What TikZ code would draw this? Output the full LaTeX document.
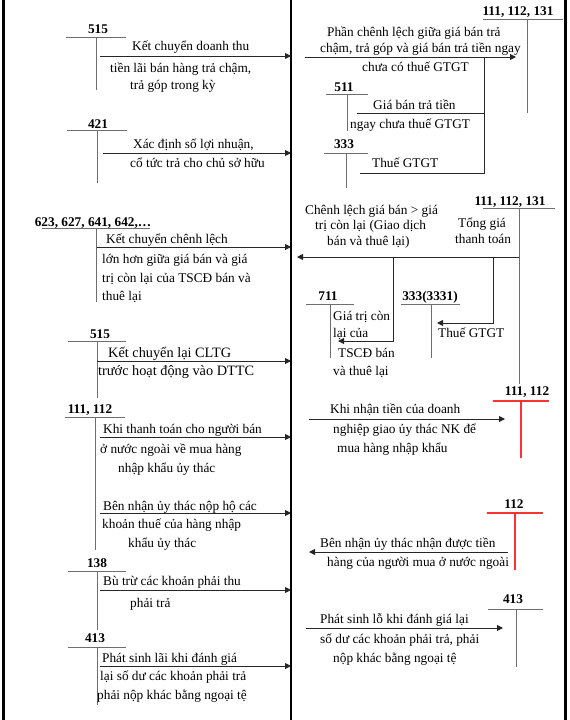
\documentclass[tikz,border=0pt]{standalone}
\usepackage{fontspec}
\setmainfont{Liberation Serif}
\usetikzlibrary{arrows.meta}
\definecolor{tgray}{RGB}{110,110,110}
\definecolor{tred}{RGB}{250,50,50}
\tikzset{
  tline/.style={draw=tgray, line width=1pt},
  rline/.style={draw=tred, line width=1.2pt},
  conn/.style={black!85, line width=1pt},
  arr/.style={conn, -{Triangle[length=6pt,width=6pt]}},
  border/.style={black, line width=3pt},
  acctlabel/.style={font=\fontsize{13.3}{16}\selectfont\bfseries, anchor=base, inner sep=0pt},
  txt/.style={font=\fontsize{13.3}{16}\selectfont, anchor=base west, inner sep=0pt},
  bigtxt/.style={font=\fontsize{14.3}{18}\selectfont, anchor=base west, inner sep=0pt},
}
\newcommand{\tacct}[9]{%
  \node[acctlabel] (#1) at (#3,#4) {#2};
  \coordinate (#1-l) at (#5,#7);
  \coordinate (#1-r) at (#6,#7);
  \coordinate (#1-t) at (#8,#7);
  \coordinate (#1-b) at (#8,#9);
  \draw[tline] (#1-l) -- (#1-r);
  \draw[tline] (#1-t) -- (#1-b);
}
\newcommand{\tacctred}[9]{%
  \node[acctlabel] (#1) at (#3,#4) {#2};
  \coordinate (#1-l) at (#5,#7);
  \coordinate (#1-r) at (#6,#7);
  \coordinate (#1-t) at (#8,#7);
  \coordinate (#1-b) at (#8,#9);
  \draw[rline] (#1-l) -- (#1-r);
  \draw[rline] (#1-t) -- (#1-b);
}
\begin{document}
\begin{tikzpicture}[x=1pt,y=-1pt]
\useasboundingbox (0,0) rectangle (570,720);
% borders
\coordinate (lt) at (3.5,0); \coordinate (lb) at (3.5,720);
\coordinate (mt) at (291,0); \coordinate (mb) at (291,720);
\coordinate (rt) at (565.5,0); \coordinate (rb) at (565.5,720);
\draw[border] (lt) -- (lb);
\draw[black, line width=2.2pt] (mt) -- (mb);
\draw[border] (rt) -- (rb);

% ---------- left accounts ----------
\tacct{L1}{515}{98}{33}{66}{126}{37}{96}{90}
\tacct{L2}{421}{98}{128}{67}{127}{130}{97}{183}
\tacct{L3}{623, 627, 641, 642,…}{93}{226}{42}{150}{228}{96}{302}
\tacct{L4}{515}{100}{338}{68}{126}{341}{97}{398}
\tacct{L5}{111, 112}{90}{413}{65}{125}{417}{95}{550}
\tacct{L6}{138}{97}{567}{68}{126}{571}{97}{630}
\tacct{L7}{413}{95}{642}{68}{126}{647}{97}{705}

% left arrows
\coordinate (s1) at (100,56);  \coordinate (e1) at (291,56);
\coordinate (s2) at (103,153); \coordinate (e2) at (291,153);
\coordinate (s3) at (97,247);  \coordinate (e3) at (291,247);
\coordinate (s4) at (97,361);  \coordinate (e4) at (291,361);
\coordinate (s5) at (100,437); \coordinate (e5) at (291,437);
\coordinate (s6) at (100,513); \coordinate (e6) at (291,513);
\coordinate (s7) at (100,590); \coordinate (e7) at (291,590);
\coordinate (s8) at (100,666); \coordinate (e8) at (291,666);
\foreach \i in {1,...,8} { \draw[arr] (s\i) -- (e\i); }

% left texts
\node[txt] (t1a) at (132,50) {Kết chuyển doanh thu};
\node[txt] (t1b) at (110,72) {tiền lãi bán hàng trả chậm,};
\node[txt] (t1c) at (130,89) {trả góp trong kỳ};
\node[txt] (t2a) at (133,148) {Xác định số lợi nhuận,};
\node[txt] (t2b) at (130,167) {cổ tức trả cho chủ sở hữu};
\node[txt] (t3a) at (106,243) {Kết chuyển chênh lệch};
\node[txt] (t3b) at (102,263) {lớn hơn giữa giá bán và giá};
\node[txt] (t3c) at (102,282) {trị còn lại của TSCĐ bán và};
\node[txt] (t3d) at (102,300) {thuê lại};
\node[bigtxt] (t4a) at (108,357) {Kết chuyển lại CLTG};
\node[bigtxt] (t4b) at (98,375) {trước hoạt động vào DTTC};
\node[txt] (t5a) at (103,433) {Khi thanh toán cho người bán};
\node[txt] (t5b) at (100,453) {ở nước ngoài về mua hàng};
\node[txt] (t5c) at (118,472) {nhập khẩu ủy thác};
\node[txt] (t6a) at (103,510) {Bên nhận ủy thác nộp hộ các};
\node[txt] (t6b) at (102,528) {khoản thuế của hàng nhập};
\node[txt] (t6c) at (128,547) {khẩu ủy thác};
\node[txt] (t7a) at (103,585) {Bù trừ các khoản phải thu};
\node[txt] (t7b) at (130,607) {phải trả};
\node[txt] (t8a) at (102,662) {Phát sinh lãi khi đánh giá};
\node[txt] (t8b) at (100,680) {lại số dư các khoản phải trả};
\node[txt] (t8c) at (97,699) {phải nộp khác bằng ngoại tệ};

% ---------- right accounts ----------
\tacct{RA}{111, 112, 131}{518}{15}{483}{563}{19}{527}{113}
\tacct{RB}{511}{344}{91}{326}{368}{94}{347}{131}
\tacct{RC}{333}{344}{148}{324}{368}{153}{346}{188}
\tacct{RD}{111, 112, 131}{510}{205}{483}{555}{208}{519}{384}
\tacct{RE}{711}{328}{300}{306}{354}{304}{330}{358}
\tacct{RF}{333(3331)}{430}{300}{401}{460}{304}{431}{358}
\tacctred{RG}{111, 112}{527}{395}{493}{549}{401}{521}{458}
\tacctred{RH}{112}{514}{508}{487}{543}{513}{515}{570}
\tacct{RI}{413}{513}{603}{488}{543}{609}{516}{667}

% right connectors
\coordinate (ra1) at (305,57);  \coordinate (ra2) at (516,57);
\coordinate (rj) at (484,57);
\coordinate (rb1) at (357,113); \coordinate (rb2) at (484,113);
\coordinate (rc1) at (360,173); \coordinate (rc2) at (484,173);
\draw[arr] (ra1) -- (ra2);
\draw[conn] (rb1) -- (rb2);
\draw[conn] (rc1) -- (rc2) -- (rj);

\coordinate (rd1) at (519,257); \coordinate (rd2) at (297,257);
\coordinate (rdj1) at (393,257); \coordinate (rdk1) at (393,341); \coordinate (rde1) at (338,341);
\coordinate (rdj2) at (493,257); \coordinate (rdk2) at (493,323); \coordinate (rde2) at (437,323);
\draw[arr] (rd1) -- (rd2);
\draw[arr] (rdj1) -- (rdk1) -- (rde1);
\draw[arr] (rdj2) -- (rdk2) -- (rde2);

\coordinate (rg1) at (309,419); \coordinate (rg2) at (505,419);
\draw[arr] (rg1) -- (rg2);
\coordinate (rh1) at (508,552); \coordinate (rh2) at (309,552);
\draw[arr] (rh1) -- (rh2);
\coordinate (ri1) at (306,628); \coordinate (ri2) at (503,628);
\draw[arr] (ri1) -- (ri2);

% right texts
\node[txt] (uA1) at (327,36) {Phần chênh lệch giữa giá bán trả};
\node[txt] (uA2) at (320,52) {chậm, trả góp và giá bán trả tiền ngay};
\node[txt] (uA3) at (362,71) {chưa có thuế GTGT};
\node[txt] (uB1) at (373,109) {Giá bán trả tiền};
\node[txt] (uB2) at (350,128) {ngay chưa thuế GTGT};
\node[txt] (uC1) at (372,167) {Thuế GTGT};
\node[txt] (uD1) at (305,214) {Chênh lệch giá bán > giá};
\node[txt] (uD2) at (315,229) {trị còn lại (Giao dịch};
\node[txt] (uD3) at (327,245) {bán và thuê lại)};
\node[txt] (uD4) at (458,227) {Tổng giá};
\node[txt] (uD5) at (455,243) {thanh toán};
\node[txt] (uE1) at (333,320) {Giá trị còn};
\node[txt] (uE2) at (333,337) {lại của};
\node[txt] (uE3) at (338,357) {TSCĐ bán};
\node[txt] (uE4) at (333,375) {và thuê lại};
\node[txt] (uF1) at (438,337) {Thuế GTGT};
\node[txt] (uG1) at (330,413) {Khi nhận tiền của doanh};
\node[txt] (uG2) at (333,433) {nghiệp giao ủy thác NK để};
\node[txt] (uG3) at (337,452) {mua hàng nhập khẩu};
\node[txt] (uH1) at (320,547) {Bên nhận ủy thác nhận được tiền};
\node[txt] (uH2) at (327,566) {hàng của người mua ở nước ngoài};
\node[txt] (uI1) at (320,623) {Phát sinh lỗ khi đánh giá lại};
\node[txt] (uI2) at (320,643) {số dư các khoản phải trả, phải};
\node[txt] (uI3) at (333,662) {nộp khác bằng ngoại tệ};
\end{tikzpicture}
\end{document}
